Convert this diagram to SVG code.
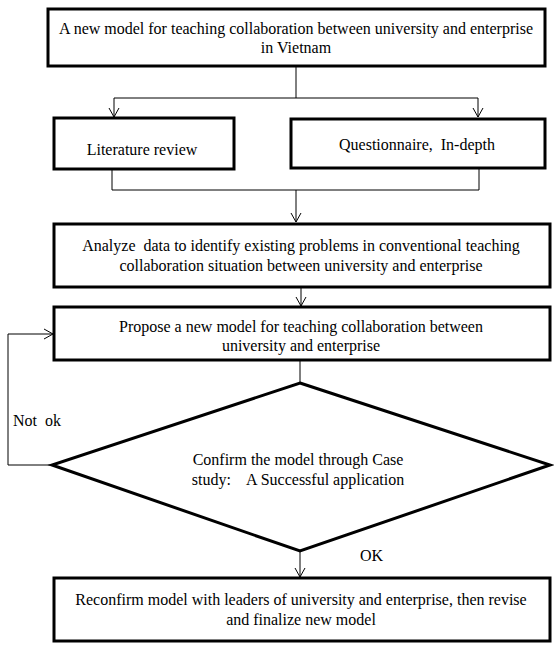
<svg xmlns="http://www.w3.org/2000/svg" width="554" height="648" viewBox="0 0 554 648">
<style>
.box{fill:#fff;stroke:#000;stroke-width:3}
.con{fill:none;stroke:#000;stroke-width:1}
text{font-family:'Liberation Serif','DejaVu Serif',serif;font-size:16px;fill:#000;text-anchor:middle}
.lbl{text-anchor:start}
</style>
<defs>
<marker id="arr" markerWidth="12" markerHeight="12" refX="10" refY="6" orient="auto" markerUnits="userSpaceOnUse">
<polyline points="1,1 10,6 1,11" fill="none" stroke="#000" stroke-width="1"/>
</marker>
</defs>
<g id="connectors">
<polyline class="con" points="296,66 296,98 114,98 114,117" marker-end="url(#arr)"/>
<polyline class="con" points="296,98 478,98 478,117" marker-end="url(#arr)"/>
<polyline class="con" points="112,169 112,190 479,190 479,168"/>
<line class="con" x1="296" y1="190" x2="296" y2="222" marker-end="url(#arr)"/>
<line class="con" x1="301" y1="287" x2="301" y2="306" marker-end="url(#arr)"/>
<line class="con" x1="300" y1="360" x2="300" y2="383"/>
<polyline class="con" points="52,465 8,465 8,334 53,334" marker-end="url(#arr)"/>
<line class="con" x1="300" y1="551" x2="300" y2="577" marker-end="url(#arr)"/>
<text class="lbl" x="13" y="426" xml:space="preserve">Not  ok</text>
<text class="lbl" x="360" y="561">OK</text>
</g>
<g id="n1"><rect class="box" x="48" y="9" width="497" height="57"/>
<text x="296" y="34">A new model for teaching collaboration between university and enterprise</text>
<text x="296" y="53">in Vietnam</text></g>
<g id="n2"><rect class="box" x="54" y="118" width="180" height="51"/>
<text x="142" y="155">Literature review</text></g>
<g id="n3"><rect class="box" x="291" y="119" width="254" height="49"/>
<text x="417" y="150" xml:space="preserve">Questionnaire,  In-depth</text></g>
<g id="n4"><rect class="box" x="54" y="224" width="496" height="63"/>
<text x="301" y="251" xml:space="preserve">Analyze  data to identify existing problems in conventional teaching</text>
<text x="301" y="271">collaboration situation between university and enterprise</text></g>
<g id="n5"><rect class="box" x="54" y="307" width="496" height="53"/>
<text x="301" y="332">Propose a new model for teaching collaboration between</text>
<text x="301" y="351">university and enterprise</text></g>
<g id="n6"><polygon class="box" points="300,383 550,465 300,551 52,465"/>
<text x="298" y="465">Confirm the model through Case</text>
<text x="298" y="485" xml:space="preserve">study:    A Successful application</text></g>
<g id="n7"><rect class="box" x="54" y="578" width="496" height="63"/>
<text x="301" y="605">Reconfirm model with leaders of university and enterprise, then revise</text>
<text x="301" y="625">and finalize new model</text></g>
</svg>
